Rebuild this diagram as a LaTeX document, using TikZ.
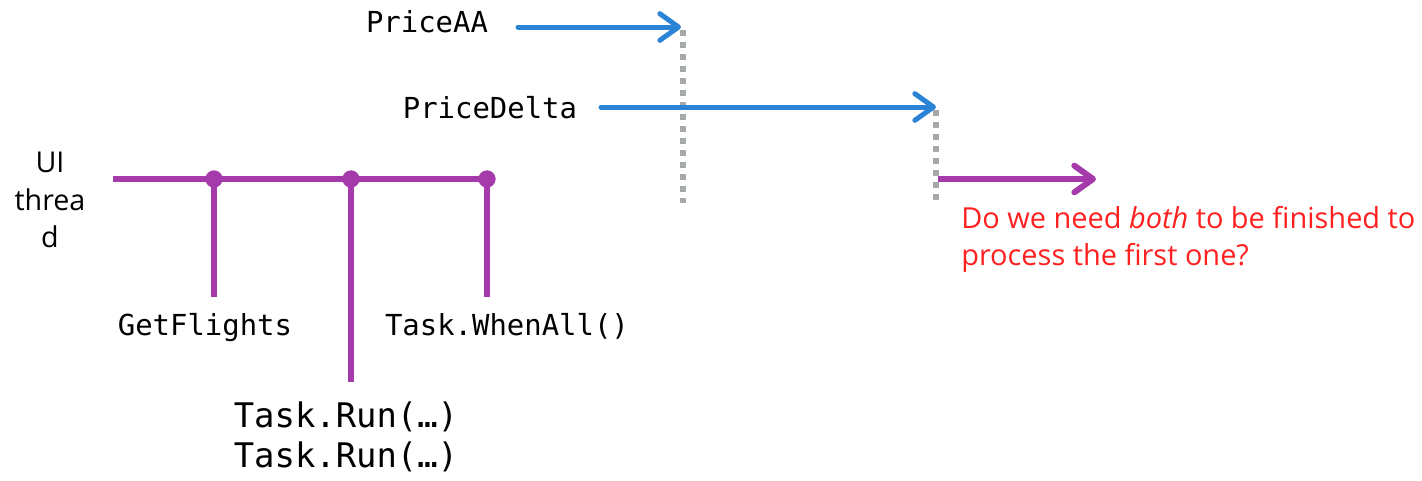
\documentclass[tikz,border=0pt]{standalone}
\usepackage{fontspec}
\setmainfont{Open Sans}
\newfontfamily\monofont{DejaVu Sans Mono}
\usetikzlibrary{arrows.meta}
\definecolor{bluec}{HTML}{2B83D6}
\definecolor{purplec}{HTML}{A53BAA}
\definecolor{grayc}{HTML}{A5A9A9}
\definecolor{redc}{HTML}{FF2020}
\tikzset{
  mono/.style={inner sep=0pt, font=\monofont\fontsize{21.7}{26}\selectfont},
  bigmono/.style={inner sep=0pt, font=\monofont\fontsize{25.4}{30}\selectfont, align=left},
  uitext/.style={inner sep=0pt, anchor=base, font=\fontsize{21.5}{28}\selectfont},
  question/.style={inner sep=0pt, anchor=base west, text=redc, font=\fontsize{21.7}{28}\selectfont},
  bluearrow/.style={draw=bluec, line width=3.75pt, line cap=round, -{Straight Barb[length=14pt,width=20pt,line cap=round,line join=round]}},
  purplearrow/.style={draw=purplec, line width=4.5pt, -{Straight Barb[length=14pt,width=20pt,line cap=round,line join=round]}},
  thread/.style={draw=purplec, line width=4.5pt},
  dotline/.style={draw=grayc, line width=4.5pt, dash pattern=on 4.5pt off 4.5pt},
  joint/.style={circle, fill=purplec, inner sep=0pt, minimum size=13pt},
}
\begin{document}
\begin{tikzpicture}[x=0.75pt,y=-0.75pt]
\useasboundingbox (0,0) rectangle (1422,480);
% labels
\node[mono, anchor=base] (paa) at (427,32) {PriceAA};
\node[mono, anchor=base] (pdelta) at (490,118) {PriceDelta};
\node[mono, anchor=base] (getf) at (205,335) {GetFlights};
\node[mono, anchor=base] (whenall) at (507,335) {Task.WhenAll()};
\node[bigmono, anchor=base] (run1) at (346,427) {Task.Run(…)};
\node[bigmono, anchor=base] (run2) at (346,467) {Task.Run(…)};
\node[uitext] (ui1) at (50,172) {UI};
\node[uitext] (ui2) at (50,210) {threa};
\node[uitext] (ui3) at (50,247) {d};
\node[question] (q1) at (961,228) {Do we need \textit{both} to be finished to};
\node[question] (q2) at (961,265) {process the first one?};
% coordinates
\coordinate (aaS) at (518,27);
\coordinate (aaE) at (681,27);
\coordinate (dS) at (601,107);
\coordinate (dE) at (936,107);
\coordinate (g1t) at (683,30);
\coordinate (g1b) at (683,203);
\coordinate (g2t) at (936,110);
\coordinate (g2b) at (936,203);
\coordinate (pS) at (938,179);
\coordinate (pE) at (1096,179);
\coordinate (uS) at (113,179);
\node[joint] (j1) at (214,179) {};
\node[joint] (j2) at (351,179) {};
\node[joint] (j3) at (487,179) {};
\coordinate (v1) at (214,297);
\coordinate (v2) at (351,382);
\coordinate (v3) at (487,297);
% gray dotted
\draw[dotline] (g1t) -- (g1b);
\draw[dotline] (g2t) -- (g2b);
% blue arrows
\draw[bluearrow] (aaS) -- (aaE);
\draw[bluearrow] (dS) -- (dE);
% purple
\draw[purplearrow] (pS) -- (pE);
\draw[thread] (uS) -- (j3.center);
\draw[thread] (j1.center) -- (v1);
\draw[thread] (j2.center) -- (v2);
\draw[thread] (j3.center) -- (v3);
\end{tikzpicture}
\end{document}
